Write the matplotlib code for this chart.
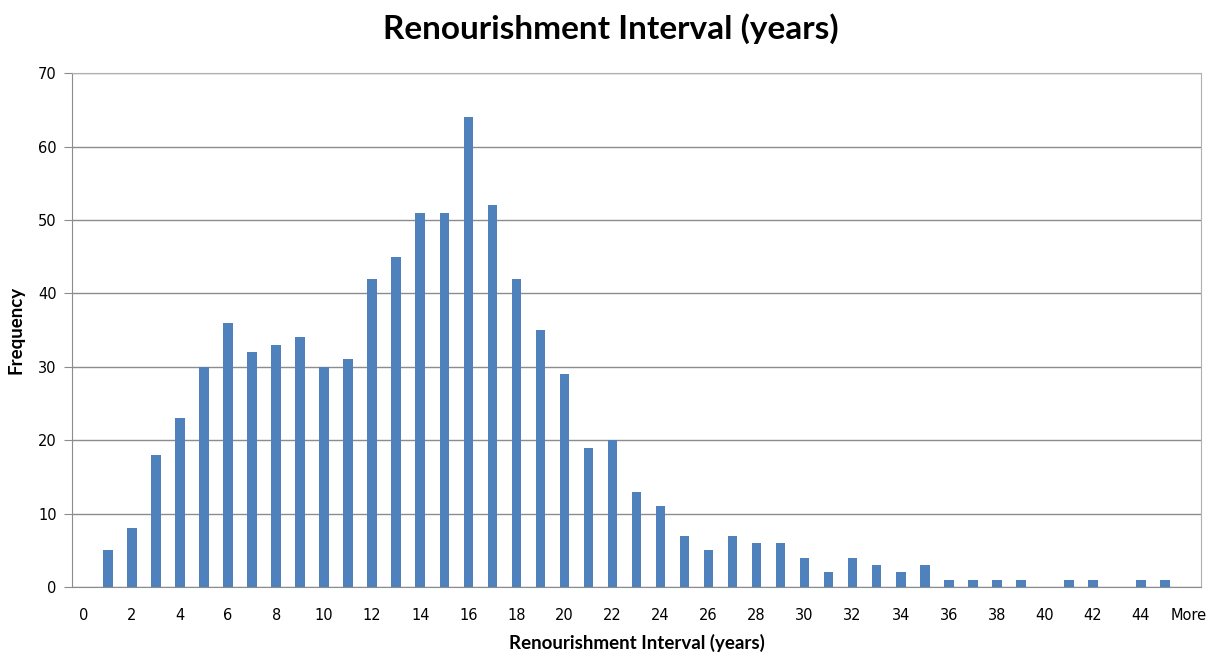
import numpy as np
import matplotlib.pyplot as plt

# Histogram bins and counts
bins = [str(i) for i in range(46)] + ['More']
counts = [0, 5, 8, 18, 23, 30, 36, 32, 33, 34, 30, 31, 42, 45, 51, 51, 64, 52,
          42, 35, 29, 19, 20, 13, 11, 7, 5, 7, 6, 6, 4, 2, 4, 3, 2, 3,
          1, 1, 1, 1, 0, 1, 1, 0, 1, 1, 0]

fig = plt.figure(figsize=(12.22, 6.54), dpi=100)
ax = fig.add_axes([0.0589, 0.1024, 0.9239, 0.7856])

x = np.arange(len(bins))
ax.bar(x, counts, width=0.4, color='#4F81BD', zorder=3)

ax.set_xlim(-0.5, len(bins) - 0.5)
ax.set_ylim(0, 70)
ax.set_yticks(range(0, 71, 10))
ax.set_xticks(x[::2])
ax.set_xticklabels(bins[::2])
ax.yaxis.grid(True, color='#8C8C8C', linewidth=1.0, zorder=0)

for side in ['top', 'right']:
    ax.spines[side].set_color('#B0B0B0')
for side in ['left', 'bottom']:
    ax.spines[side].set_color('#8C8C8C')
ax.tick_params(axis='y', length=6, color='#8C8C8C', labelsize=10.5, pad=5)
ax.tick_params(axis='x', length=0, labelsize=10.5, pad=15)

fig.text(0.5, 0.957, 'Renourishment Interval (years)', ha='center', va='center',
         fontsize=24, fontweight='bold', family='Lato')
ax.set_xlabel('Renourishment Interval (years)', fontsize=13.5, fontweight='bold',
              family='Lato', labelpad=8)
ax.set_ylabel('Frequency', fontsize=13.5, fontweight='bold', family='Lato',
              labelpad=10)

fig.savefig('out.png', dpi=100)
